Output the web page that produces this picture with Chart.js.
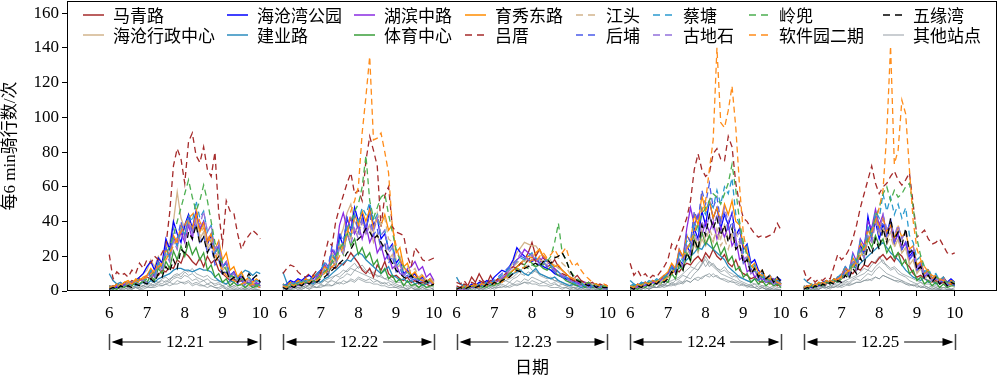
<!DOCTYPE html>
<html>
<head>
<meta charset="utf-8">
<script src="https://cdn.jsdelivr.net/npm/chart.js@4.4.1/dist/chart.umd.min.js"></script>
<style>
  html, body { margin: 0; background: #fff; }
  #wrap { width: 1000px; height: 375px; }
</style>
</head>
<body>
<div id="wrap"><canvas id="rides"></canvas></div>
<script>
// ── data: rides per 6 min, 6:00 → 10:00 (41 samples a day) ──────────
const dayLabels = ["12.21", "12.22", "12.23", "12.24", "12.25"];
const hourTicks = [6, 7, 8, 9, 10];
const yTicks = [0, 20, 40, 60, 80, 100, 120, 140, 160];

const stationNames = [
  "马青路", "海沧行政中心", "海沧湾公园", "建业路", "湖滨中路", "体育中心",
  "育秀东路", "吕厝", "江头", "后埔", "蔡塘", "古地石", "岭兜", "软件园二期",
  "五缘湾", "其他站点",
];

const maQingLu = [
  [3,2,4,3,5,4,6,5,7,6, 8,7,10,9,12,11,14,13,18,16, 22,20,17,15,19,14,20,16,18,12, 10,8,6,7,5,6,4,5,3,4, 3],
  [4,3,5,4,6,5,7,6,9,8, 10,12,11,14,13,16,15,18,22,19, 16,12,10,13,8,15,12,17,10,8, 9,7,6,8,5,6,4,5,4,3, 4],
  [3,2,4,3,8,5,10,6,4,9, 5,7,6,8,10,12,14,16,18,22, 28,20,24,19,17,15,18,14,12,10, 8,7,9,6,5,4,5,3,4,3, 2],
  [3,2,3,4,5,4,6,5,7,9, 8,10,12,11,14,16,15,18,20,17, 22,19,24,20,18,21,16,14,18,12, 10,9,7,8,6,5,6,4,5,3, 4],
  [2,3,2,4,3,5,4,6,5,8, 7,9,11,10,13,12,15,14,17,16, 19,21,18,20,17,22,20,16,14,10, 8,9,7,6,5,6,4,5,3,4, 3],
];
const haiCangXingZheng = [
  [2,3,2,4,3,5,4,6,8,10, 12,18,14,20,16,24,28,40,57,42, 36,44,34,40,30,34,24,28,19,22, 12,14,7,10,6,8,5,7,4,6, 5],
  [3,2,4,3,5,4,6,5,7,9, 11,16,13,22,18,30,36,45,50,40, 36,42,34,38,28,33,24,27,18,21, 13,15,9,12,8,10,6,8,5,7, 6],
  [1,2,1,3,2,3,2,4,3,5, 4,6,5,8,12,17,22,25,28,27, 26,26,23,20,18,16,15,13,12,10, 8,6,5,4,5,3,4,2,3,2, 2],
  [2,3,2,4,3,4,5,6,5,7, 8,13,10,18,14,22,18,27,22,30, 26,32,28,36,30,38,30,33,24,27, 16,18,10,12,7,9,5,8,4,6, 4],
  [2,1,3,2,4,3,5,4,6,7, 9,14,11,19,15,27,22,35,30,42, 34,38,30,34,26,30,22,25,15,18, 10,13,7,10,6,8,4,7,3,5, 3],
];
const haiCangWanPark = [
  [2,3,2,4,3,5,4,6,8,10, 14,17,12,19,16,30,24,40,33,28, 38,44,36,46,35,40,27,32,22,26, 14,16,9,11,7,9,6,4,7,3, 5],
  [3,4,6,5,7,6,8,9,7,10, 12,15,11,20,18,32,26,42,35,48, 40,45,34,48,38,42,30,33,24,27, 16,19,10,12,8,10,6,8,5,7, 5],
  [2,1,3,2,4,3,5,4,6,5, 8,10,12,11,14,18,25,22,20,18, 17,19,16,14,13,12,10,9,8,7, 6,5,4,5,3,4,3,2,3,2, 2],
  [3,2,4,3,5,4,6,5,7,8, 10,14,11,18,15,26,22,36,30,46, 38,52,42,48,36,44,38,45,32,36, 24,27,16,18,12,10,7,9,6,8, 6],
  [2,3,2,4,3,5,6,4,7,6, 9,13,10,17,14,26,22,43,32,40, 30,38,34,40,28,33,24,28,20,23, 14,16,10,12,7,9,6,8,5,7, 5],
];
const jianYeLu = [
  [10,6,4,5,3,4,5,3,4,5, 4,6,5,7,8,9,10,12,13,13, 12,12,11,12,13,12,12,11,8,6, 5,4,6,5,8,10,12,11,9,11, 10],
  [11,5,4,3,5,4,6,5,4,6, 5,7,8,10,12,14,16,18,17,20, 22,21,18,16,14,12,10,12,14,9, 8,6,7,5,6,4,5,3,4,6, 5],
  [8,4,3,2,3,2,4,3,5,4, 5,6,7,8,9,10,11,12,10,9, 11,13,10,9,8,7,8,6,5,4, 3,4,3,2,3,2,2,3,2,2, 1],
  [6,4,3,5,4,3,5,4,6,8, 10,12,14,13,15,18,20,22,25,24, 28,26,24,22,20,18,14,12,10,8, 7,6,5,7,6,8,5,6,4,5, 4],
  [7,5,4,3,5,4,6,5,7,6, 8,10,12,14,13,16,18,20,22,24, 26,28,25,22,20,18,15,12,10,8, 7,6,8,5,6,4,5,6,4,5, 3],
];
const huBinZhongLu = [
  [1,2,3,2,4,3,5,4,6,7, 9,12,8,16,13,25,20,31,26,34, 28,38,30,44,36,40,29,33,22,26, 14,17,9,11,6,8,4,7,3,5, 3],
  [2,3,2,4,3,5,4,6,5,8, 10,15,12,24,20,38,45,36,42,33, 38,30,38,28,33,22,26,18,21,13, 15,10,9,13,14,17,12,14,8,10, 6],
  [1,2,1,3,2,3,2,4,3,5, 4,6,7,9,12,14,18,20,24,22, 20,18,16,20,17,15,13,11,9,8, 7,6,5,4,5,3,4,3,2,3, 2],
  [2,3,2,4,3,4,5,4,6,8, 10,15,12,24,19,36,48,38,44,32, 40,34,40,30,37,31,38,26,30,18, 20,11,13,8,10,6,8,5,7,4, 5],
  [2,1,3,2,4,3,5,4,6,7, 9,14,11,22,17,30,26,40,36,47, 38,44,32,38,28,33,24,28,18,22, 12,15,8,11,7,9,5,7,4,6, 4],
];
const tiYuZhongXin = [
  [1,2,1,3,2,4,3,5,4,6, 5,9,6,13,10,17,13,23,18,26, 20,28,21,25,18,22,12,15,8,10, 5,7,3,5,3,4,2,4,2,3, 2],
  [2,1,3,2,4,3,5,4,6,5, 8,12,9,18,14,26,21,34,26,30, 21,25,19,22,15,18,10,13,7,9, 5,7,3,6,3,4,2,4,2,3, 3],
  [1,1,2,1,3,2,3,2,4,3, 5,4,6,8,10,12,14,16,15,18, 16,14,15,13,12,14,11,9,8,6, 5,4,3,4,2,3,2,2,1,2, 1],
  [1,2,1,3,2,4,3,5,4,6, 5,10,7,15,12,22,17,30,24,34, 27,32,24,28,21,25,17,20,12,14, 8,10,5,7,4,6,3,5,3,4, 2],
  [2,1,3,2,4,3,5,4,6,5, 7,11,8,16,12,24,19,30,25,32, 26,30,22,26,19,22,15,18,10,12, 6,8,4,6,3,5,2,4,2,3, 3],
];
const yuXiuDongLu = [
  [3,2,4,3,5,6,4,7,6,8, 9,13,10,17,14,24,20,32,28,38, 32,40,36,44,34,39,28,33,24,29, 18,22,12,14,8,11,6,8,5,7, 5],
  [4,3,5,4,6,5,7,6,8,10, 9,14,12,20,17,27,24,36,31,44, 38,46,40,47,36,42,38,44,35,38, 22,25,14,16,9,11,7,9,5,7, 4],
  [2,1,3,2,3,4,3,5,4,6, 5,7,6,8,10,12,14,16,18,20, 19,22,24,20,18,16,14,15,12,10, 8,7,6,5,4,5,3,4,3,2, 3],
  [3,2,4,3,5,4,6,5,7,9, 11,16,13,24,20,32,28,44,38,55, 46,52,42,48,40,50,44,52,40,38, 26,22,14,16,10,12,7,9,5,7, 4],
  [3,2,4,3,5,4,6,5,7,6, 9,13,11,19,16,28,24,36,31,44, 36,42,34,38,30,37,31,34,24,26, 15,17,10,12,7,9,6,8,4,6, 5],
];
const lvCuo = [
  [21,7,11,9,10,8,12,10,16,13, 18,16,20,18,22,26,45,72,82,76, 62,86,91,78,74,83,70,66,80,45, 27,52,46,45,33,24,29,32,35,33, 30],
  [10,13,15,14,11,9,8,10,9,12, 10,20,29,26,40,48,55,62,68,56, 58,52,75,89,81,72,37,55,60,37, 34,33,32,20,14,25,22,18,17,18, 19],
  [5,4,6,3,5,4,6,5,4,6, 5,7,8,10,12,14,13,16,15,18, 20,17,19,16,14,15,12,11,10,9, 7,6,5,6,4,5,3,4,3,4, 3],
  [16,9,12,8,10,7,9,8,11,14, 18,27,24,30,36,42,52,70,79,70, 66,68,79,82,76,75,89,83,62,50, 42,40,36,33,31,32,31,32,33,39, 35],
  [12,6,8,5,7,6,8,7,14,21, 18,20,24,30,38,48,56,64,72,62, 56,60,62,66,69,64,61,64,68,50, 31,33,35,30,27,28,30,26,22,21, 22],
];
const jiangTou = [
  [2,1,3,2,4,3,5,4,6,5, 7,11,9,15,12,21,17,29,24,36, 30,42,34,40,32,37,26,30,20,23, 13,15,8,10,6,9,5,7,4,6, 3],
  [2,3,2,4,3,5,4,6,5,7, 9,13,11,20,16,27,22,35,30,37, 32,40,33,38,34,45,38,42,30,28, 18,20,12,14,11,13,8,10,6,8, 5],
  [1,2,1,2,3,2,3,4,3,5, 4,6,8,10,12,14,16,18,17,19, 21,20,18,17,16,18,20,19,16,14, 10,8,6,5,4,3,4,3,2,3, 2],
  [2,1,3,2,3,4,3,5,4,6, 8,12,10,17,14,25,20,32,26,35, 29,36,30,34,26,30,24,32,34,27, 18,20,11,13,8,12,7,9,5,8, 5],
  [1,2,3,2,4,3,5,4,6,5, 7,11,9,17,13,24,19,32,28,40, 32,36,27,31,25,30,22,25,16,18, 11,13,7,9,5,7,4,6,3,5, 4],
];
const houPu = [
  [2,1,3,2,4,3,5,4,6,5, 7,11,9,17,13,25,20,36,30,40, 32,42,34,38,28,32,22,26,15,18, 9,11,6,8,4,6,3,5,3,4, 3],
  [3,2,4,3,5,4,6,5,7,9, 11,17,14,26,21,34,28,42,35,44, 34,42,36,44,32,36,24,28,16,20, 11,13,8,9,6,7,5,6,4,5, 4],
  [1,2,1,3,2,3,2,4,3,5, 6,8,10,12,14,16,18,20,19,17, 18,16,15,17,14,13,11,10,8,7, 6,5,4,3,4,3,2,3,2,2, 1],
  [2,3,2,4,3,5,4,6,5,7, 9,14,11,22,18,33,28,46,40,58, 50,62,48,54,40,46,34,40,26,30, 16,19,10,12,7,9,5,7,4,6, 3],
  [2,1,3,2,4,3,5,4,6,5, 8,12,9,18,14,26,21,36,30,44, 34,40,32,42,28,34,24,28,18,21, 12,14,8,10,6,7,4,6,3,5, 3],
];
const caiTang = [
  [3,2,4,3,5,4,6,5,7,6, 8,12,9,16,13,23,19,30,26,36, 32,44,40,52,42,46,34,38,22,26, 14,16,8,11,7,9,6,8,5,6, 5],
  [4,3,5,4,6,5,7,6,8,10, 12,16,13,22,18,29,25,37,32,44, 40,48,44,51,40,44,32,35,24,26, 14,17,9,11,7,9,5,7,4,6, 4],
  [2,1,3,2,3,2,4,3,5,4, 6,7,9,11,13,15,17,19,18,20, 22,19,17,16,18,15,13,11,9,8, 6,5,4,5,3,4,3,2,3,2, 2],
  [3,4,3,5,4,6,5,7,6,8, 10,14,12,21,17,29,25,40,34,48, 44,52,48,58,50,60,56,65,44,38, 22,26,12,15,8,10,6,9,5,7, 4],
  [3,2,4,3,5,4,6,5,7,8, 10,14,12,21,17,29,25,37,32,46, 42,56,46,54,44,50,42,48,32,28, 18,20,11,13,8,10,6,8,4,6, 5],
];
const guDiShi = [
  [1,2,1,3,2,4,3,5,4,6, 5,9,7,14,11,21,17,29,24,35, 30,39,33,42,38,46,34,38,24,28, 14,17,8,10,5,7,4,6,3,4, 2],
  [2,1,3,2,4,3,5,4,6,5, 8,12,9,18,14,26,21,33,27,36, 30,40,32,38,34,42,32,35,22,25, 14,16,9,11,7,8,5,7,4,5, 4],
  [1,1,2,1,3,2,3,2,4,3, 5,6,8,10,12,14,18,22,20,18, 21,17,19,16,15,14,12,10,9,7, 6,5,4,3,4,2,3,2,2,1, 2],
  [2,1,3,2,4,3,5,4,6,5, 7,11,9,18,14,26,21,34,28,40, 34,44,36,44,38,48,40,45,30,34, 18,20,10,12,7,9,5,7,4,6, 3],
  [1,2,1,3,2,4,3,5,4,6, 5,10,8,16,12,24,19,33,27,40, 34,44,36,40,32,38,30,34,22,26, 14,16,9,11,6,8,5,7,4,5, 4],
];
const lingDou = [
  [2,1,3,2,4,3,5,4,6,5, 7,9,11,13,16,20,26,32,40,48, 56,64,54,46,52,61,52,40,28,22, 16,12,9,8,6,7,5,4,5,3, 4],
  [2,3,2,4,3,5,4,6,5,7, 9,11,13,16,20,24,28,34,40,46, 50,60,78,52,42,48,54,56,44,34, 24,18,14,11,9,8,7,6,5,6, 4],
  [1,2,1,2,1,3,2,3,2,4, 3,5,6,8,10,11,13,12,14,13, 15,14,16,15,17,20,28,39,22,18, 12,9,7,5,4,5,3,4,2,3, 2],
  [2,3,2,4,3,5,4,6,5,7, 9,11,13,16,20,24,28,32,38,44, 48,52,56,54,50,56,62,73,58,40, 28,20,15,12,10,8,7,6,8,5, 6],
  [2,1,3,2,4,3,5,4,6,5, 7,9,12,15,18,22,26,30,36,42, 48,56,60,52,58,54,56,60,62,48, 30,20,14,11,9,8,7,6,5,6, 4],
];
const ruanJianYuan2 = [
  [2,3,2,4,3,5,4,6,5,7, 8,10,12,14,16,18,22,26,30,34, 38,42,44,47,40,36,32,28,22,16, 12,9,7,6,5,4,5,3,4,3, 2],
  [3,2,4,3,5,4,6,5,7,6, 8,10,12,14,16,20,26,32,46,52, 60,91,112,135,87,88,91,80,68,37, 26,18,14,11,9,8,7,6,5,6, 4],
  [1,2,1,3,2,3,2,4,3,5, 4,6,5,7,8,10,12,14,13,16, 18,17,20,22,19,21,24,20,22,25, 18,14,16,12,9,7,5,4,3,4, 3],
  [3,2,4,3,5,4,6,5,7,6, 8,10,13,16,20,24,28,34,40,46, 52,70,87,140,97,94,104,118,94,60, 33,22,16,12,10,9,8,7,6,5, 4],
  [2,3,2,4,3,5,4,6,5,7, 8,10,12,14,17,20,24,28,34,40, 48,58,91,141,73,81,110,102,70,40, 24,18,14,11,9,8,7,6,5,4, 5],
];
const wuYuanWan = [
  [1,2,1,3,2,3,2,4,3,5, 4,7,5,10,8,14,11,18,13,24, 22,34,30,38,27,31,22,27,17,20, 10,12,6,8,5,9,6,10,7,9, 5],
  [2,1,3,2,4,3,5,4,6,5, 7,8,10,12,14,16,18,22,24,28, 30,32,36,34,30,32,28,24,20,16, 12,10,8,7,9,6,5,4,6,3, 4],
  [1,2,1,2,3,2,3,2,4,3, 5,4,6,7,8,10,12,11,13,14, 15,16,14,17,18,16,19,20,22,18, 12,8,6,5,4,3,4,2,3,2, 2],
  [2,1,3,2,4,3,5,4,6,5, 7,11,9,16,12,22,18,30,24,38, 32,44,36,42,32,38,28,36,24,27, 16,18,10,13,8,12,7,9,5,8, 5],
  [1,2,1,3,2,4,3,5,4,6, 5,9,7,13,10,19,15,26,21,30, 24,36,28,42,30,34,26,36,22,24, 12,14,7,9,5,8,4,6,3,5, 4],
];
// a handful of the small stations, all drawn in grey
const otherStations = [
  [
    [1,0,1,2,1,2,1,3,2,3, 2,4,3,5,4,6,5,7,8,7, 9,8,6,7,5,6,4,5,3,4, 3,2,3,2,1,2,1,2,1,1, 0],
    [0,1,1,2,1,2,3,2,3,2, 4,3,5,6,5,7,8,10,9,12, 11,10,9,8,7,6,5,4,5,3, 2,3,2,1,2,1,1,2,1,0, 1],
    [0,1,0,1,2,1,2,1,2,3, 2,3,4,3,5,4,6,5,7,6, 8,7,6,5,6,4,5,3,4,3, 2,2,1,2,1,1,0,1,1,0, 1],
    [1,0,1,2,1,2,3,2,3,4, 3,5,4,6,5,8,7,10,12,15, 20,16,14,12,10,9,8,7,6,5, 4,3,4,2,3,2,1,2,1,1, 0],
    [0,1,1,2,1,3,2,3,2,4, 3,5,4,6,7,6,8,10,9,12, 14,12,10,9,8,7,6,5,4,3, 4,2,3,2,1,2,1,1,0,1, 1],
  ],
  [
    [2,1,2,1,3,2,2,3,4,3, 5,4,6,5,7,8,6,9,10,8, 11,9,10,8,7,6,7,5,4,5, 3,4,2,3,2,1,2,1,2,1, 1],
    [1,2,1,2,2,3,2,4,3,5, 4,6,5,7,9,8,10,12,14,16, 13,15,12,10,11,8,9,7,6,5, 4,3,4,2,3,2,1,2,1,1, 2],
    [1,0,1,2,1,2,1,3,2,3, 4,3,5,6,5,7,8,10,9,11, 10,12,9,8,7,8,6,5,4,3, 3,2,2,1,2,1,1,0,1,1, 0],
    [0,1,2,1,2,1,3,2,4,3, 5,4,6,7,9,8,11,13,12,16, 18,14,16,13,11,12,10,8,9,6, 5,4,3,4,2,3,2,1,2,1, 1],
    [1,2,1,2,3,2,3,2,4,5, 4,6,5,7,8,9,10,12,11,14, 16,18,14,12,13,10,9,8,6,5, 4,5,3,2,3,2,1,2,1,1, 0],
  ],
  [
    [0,1,0,1,1,2,1,2,1,2, 3,2,3,4,3,4,5,4,6,5, 5,6,4,5,4,3,4,3,2,2, 3,1,2,1,1,0,1,1,0,1, 0],
    [1,0,1,1,2,1,2,1,3,2, 3,3,4,3,5,4,6,5,7,6, 8,7,6,7,5,6,4,5,3,4, 3,2,2,1,2,1,1,0,1,0, 1],
    [0,0,1,1,0,1,2,1,2,1, 2,2,3,2,3,4,3,4,5,4, 6,5,4,5,4,3,4,3,2,2, 1,2,1,1,0,1,0,1,0,0, 1],
    [1,1,0,1,2,1,2,2,3,2, 3,4,3,5,4,6,5,7,6,8, 9,10,8,9,7,6,5,6,4,3, 4,2,3,2,1,2,1,1,0,1, 0],
    [0,1,0,1,1,2,2,1,3,2, 3,4,3,4,5,5,6,7,6,8, 7,9,8,7,6,5,6,4,3,4, 2,3,2,1,2,1,1,0,1,1, 0],
  ],
  [
    [3,2,1,2,2,1,3,2,2,3, 4,3,4,5,6,5,7,8,9,10, 12,11,13,10,9,8,9,7,6,6, 5,4,5,3,4,3,2,3,2,2, 3],
    [2,1,2,3,2,2,3,3,4,4, 5,6,7,8,9,10,12,11,13,12, 14,13,11,12,10,9,8,7,8,6, 5,5,4,3,4,3,2,3,2,2, 1],
    [1,2,1,1,2,2,1,2,3,2, 3,4,5,6,7,8,10,12,14,15, 12,11,10,9,8,7,6,6,5,4, 4,3,3,2,2,2,1,2,1,1, 1],
    [2,1,2,2,3,3,2,4,3,4, 5,6,7,8,10,12,14,13,16,18, 14,17,15,13,12,14,11,10,8,9, 7,6,5,4,4,3,3,2,3,2, 2],
    [1,2,2,1,2,3,2,3,4,3, 5,6,7,8,9,11,13,12,15,17, 20,16,15,13,14,12,10,9,8,7, 6,5,4,4,3,3,2,2,2,1, 2],
  ],
  [
    [1,1,2,1,0,1,1,2,1,1, 2,2,2,3,3,4,3,4,4,5, 4,5,3,4,3,3,2,3,2,1, 2,1,1,1,0,1,1,0,1,0, 0],
    [0,1,1,0,1,1,2,1,2,2, 2,3,3,3,4,5,4,5,6,5, 7,6,5,5,4,4,3,3,2,2, 2,1,1,1,0,1,0,1,0,0, 0],
    [0,0,0,1,1,0,1,1,1,2, 1,2,2,3,2,3,4,4,5,5, 4,4,3,3,3,2,2,2,1,2, 1,1,1,0,1,0,0,1,0,0, 0],
    [0,1,1,1,2,1,2,2,2,3, 3,3,4,4,5,6,5,7,8,7, 9,8,10,8,7,7,6,5,5,4, 3,3,2,2,1,2,1,1,1,0, 1],
    [1,0,1,1,1,2,1,2,2,3, 2,3,4,4,5,5,6,6,7,8, 7,9,8,7,6,6,5,4,4,3, 3,2,2,1,1,1,1,0,1,0, 0],
  ],
];

const namedSeries = [
  maQingLu, haiCangXingZheng, haiCangWanPark, jianYeLu, huBinZhongLu,
  tiYuZhongXin, yuXiuDongLu, lvCuo, jiangTou, houPu, caiTang, guDiShi,
  lingDou, ruanJianYuan2, wuYuanWan,
];

// ── styles ────────────────────────────────────────────────
const lineColors = [
  "#a52a2a", "#d2b48c", "#0000ff", "#2b8cbe", "#8a2be2", "#3a9e3a",
  "#ff8c00", "#a52a2a", "#d2b48c", "#4a5bea", "#2b9bcf", "#9370db",
  "#4caf50", "#ff8c1a", "#000000", "#b8bec3",
];
const dashed = [
  false, false, false, false, false, false, false,
  true, true, true, true, true, true, true, true, false,
];
const greyLine = "rgba(120,135,142,0.65)";

const DAY_SHIFT = 4.6; // hours between the 6:00 marks of two days
const STEP = 0.1;      // 6 min
const serif = "'Liberation Serif', 'Noto Sans CJK SC', serif";
const cjk = "'Noto Sans CJK SC', 'Liberation Serif', sans-serif";

function toPoints(days) {
  const pts = [];
  days.forEach((vals, d) => {
    vals.forEach((v, i) => pts.push({ x: d * DAY_SHIFT + i * STEP, y: v }));
    pts.push({ x: d * DAY_SHIFT + 4.3, y: null }); // break between days
  });
  return pts;
}

const datasets = namedSeries.map((s, k) => ({
  label: stationNames[k],
  data: toPoints(s),
  borderColor: lineColors[k],
  borderWidth: 1.3,
  borderDash: dashed[k] ? [6, 4] : [],
  order: namedSeries.length - k,
}));
otherStations.forEach((s) =>
  datasets.push({
    label: stationNames[15],
    data: toPoints(s),
    borderColor: greyLine,
    borderWidth: 1,
    order: 100,
  }),
);

function arrowHead(ctx, tipX, y, dir) {
  ctx.beginPath();
  ctx.moveTo(tipX, y);
  ctx.lineTo(tipX - dir * 11, y - 4);
  ctx.lineTo(tipX - dir * 11, y + 4);
  ctx.closePath();
  ctx.fill();
}

const decorations = {
  id: "decorations",
  afterDraw(chart) {
    const { ctx, chartArea: a } = chart;
    const x = chart.scales.x;
    ctx.save();

    // axes frame
    ctx.strokeStyle = "#000";
    ctx.lineWidth = 1;
    ctx.strokeRect(a.left + 0.5, a.top + 0.5, a.right - a.left - 1, a.bottom - a.top - 1);

    // y title
    ctx.save();
    ctx.fillStyle = "#000";
    ctx.font = "17px " + serif;
    ctx.translate(11, (a.top + a.bottom) / 2);
    ctx.rotate(-Math.PI / 2);
    ctx.textAlign = "center";
    ctx.textBaseline = "middle";
    ctx.fillText("每6 min骑行数/次", 0, 0);
    ctx.restore();

    // day brackets under the hour ticks
    const yB = 342;
    ctx.font = "17px " + serif;
    ctx.textAlign = "center";
    ctx.textBaseline = "middle";
    ctx.fillStyle = "#000";
    dayLabels.forEach((lab, d) => {
      const x0 = Math.round(x.getPixelForValue(d * DAY_SHIFT)) + 0.5;
      const x1 = Math.round(x.getPixelForValue(d * DAY_SHIFT + 4)) + 0.5;
      const xm = (x0 + x1) / 2;
      const half = ctx.measureText(lab).width / 2 + 5;
      ctx.strokeStyle = "#444";
      ctx.lineWidth = 1.5;
      ctx.beginPath();
      ctx.moveTo(x0, yB - 8); ctx.lineTo(x0, yB + 8);
      ctx.moveTo(x1, yB - 8); ctx.lineTo(x1, yB + 8);
      ctx.stroke();
      ctx.strokeStyle = "#000";
      ctx.lineWidth = 1;
      ctx.beginPath();
      ctx.moveTo(x0 + 4, yB); ctx.lineTo(xm - half, yB);
      ctx.moveTo(xm + half, yB); ctx.lineTo(x1 - 4, yB);
      ctx.stroke();
      arrowHead(ctx, x0 + 2, yB, -1);
      arrowHead(ctx, x1 - 2, yB, 1);
      ctx.fillText(lab, xm, yB + 1);
    });

    // x title
    ctx.font = "17px " + cjk;
    ctx.fillText("日期", (a.left + a.right) / 2, 367);

    // legend: 8 columns × 2 rows, filled column by column
    const colTextX = [113, 257, 384, 495, 606, 683, 779, 913];
    const rowY = [15, 35];
    ctx.textAlign = "left";
    stationNames.forEach((name, k) => {
      const tx = colTextX[k >> 1];
      const ty = rowY[k & 1];
      ctx.strokeStyle = lineColors[k];
      ctx.lineWidth = 1.5;
      ctx.setLineDash(dashed[k] ? [7, 5] : []);
      ctx.beginPath();
      ctx.moveTo(tx - 30, ty);
      ctx.lineTo(tx - 9, ty);
      ctx.stroke();
      ctx.setLineDash([]);
      ctx.fillStyle = "#000";
      ctx.fillText(name, tx, ty + 1);
    });
    ctx.restore();
  },
};

new Chart(document.getElementById("rides"), {
  type: "line",
  data: { datasets },
  options: {
    responsive: true,
    maintainAspectRatio: false,
    animation: false,
    devicePixelRatio: 1,
    spanGaps: false,
    elements: { point: { radius: 0 }, line: { tension: 0 } },
    layout: { padding: { top: 1, right: 3, left: 0, bottom: 0 } },
    plugins: { legend: { display: false }, tooltip: { enabled: false } },
    scales: {
      x: {
        type: "linear",
        min: -1.12,
        max: 23.52,
        border: { display: false },
        grid: { drawOnChartArea: false, drawTicks: true, tickLength: 5, color: "#000" },
        ticks: {
          autoSkip: false,
          maxRotation: 0,
          minRotation: 0,
          padding: 7,
          color: "#000",
          font: { family: serif, size: 17 },
          callback: (v, i) => hourTicks[i % hourTicks.length],
        },
        afterBuildTicks: (s) => {
          s.ticks = dayLabels.flatMap((_, d) =>
            hourTicks.map((h) => ({ value: d * DAY_SHIFT + (h - hourTicks[0]) })),
          );
        },
        afterFit: (s) => {
          s.height = 84;
          s.paddingLeft = 0;
          s.paddingRight = 0;
        },
      },
      y: {
        min: 0,
        max: 167,
        border: { display: false },
        grid: { drawOnChartArea: false, drawTicks: true, tickLength: 5, color: "#000" },
        ticks: { padding: 3, color: "#000", font: { family: serif, size: 17 } },
        afterBuildTicks: (s) => { s.ticks = yTicks.map((v) => ({ value: v })); },
        afterFit: (s) => {
          s.width = 67;
          s.paddingTop = 0;
          s.paddingBottom = 0;
        },
      },
    },
  },
  plugins: [decorations],
});
</script>
</body>
</html>
